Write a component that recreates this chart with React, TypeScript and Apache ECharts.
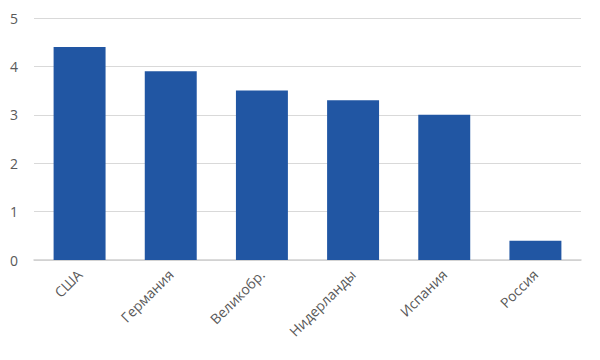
import React, { useEffect, useRef } from "react";
import * as echarts from "echarts";

const categories = ["США", "Германия", "Великобр.", "Нидерланды", "Испания", "Россия"];
const values = [4.4, 3.9, 3.5, 3.3, 3.0, 0.4];
const yTicks = { min: 0, max: 5, interval: 1 };

export default function App() {
  const ref = useRef<HTMLDivElement>(null);
  useEffect(() => {
    if (!ref.current) return;
    const chart = echarts.init(ref.current, null, { renderer: "svg" });
    chart.setOption({
      animation: false,
      backgroundColor: "#ffffff",
      grid: { left: 34, right: 19, top: 18, bottom: 100, containLabel: false },
      xAxis: {
        type: "category",
        data: categories,
        axisTick: { show: false },
        axisLine: { lineStyle: { color: "#d0d0d0", width: 1.5 } },
        axisLabel: {
          rotate: 45,
          color: "#595959",
          fontFamily: "Open Sans",
          fontSize: 14,
          margin: 12,
          interval: 0,
        },
      },
      yAxis: {
        type: "value",
        min: yTicks.min,
        max: yTicks.max,
        interval: yTicks.interval,
        axisLine: { show: false },
        axisTick: { show: false },
        splitLine: { lineStyle: { color: "#d9d9d9", width: 1 } },
        axisLabel: {
          color: "#595959",
          fontFamily: "Open Sans",
          fontSize: 14,
          margin: 16,
        },
      },
      series: [
        {
          type: "bar",
          data: values,
          barWidth: "57%",
          itemStyle: { color: "#2156A3" },
        },
      ],
    });
    return () => chart.dispose();
  }, []);
  return (
    <div
      ref={ref}
      style={{ position: "fixed", left: 0, top: 0, width: 600, height: 360 }}
    />
  );
}
